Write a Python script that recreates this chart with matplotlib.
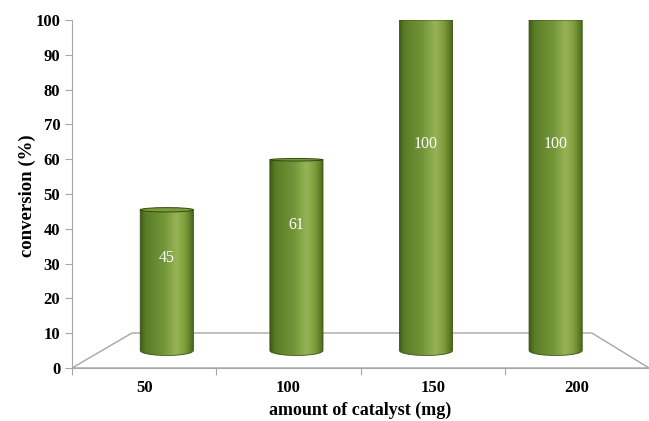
import numpy as np
import matplotlib
matplotlib.use("Agg")
import matplotlib.pyplot as plt
from matplotlib.path import Path
from matplotlib.patches import PathPatch, Ellipse, Polygon
from matplotlib.colors import LinearSegmentedColormap

# catalyst loading vs conversion
catalyst = ["50", "100", "150", "200"]
conversion = [45, 61, 100, 100]

plt.rcParams['font.family'] = ['Liberation Serif', 'DejaVu Serif']

# 3D look: the floor recedes, back plane is shrunk and shifted
back_scale = 0.797
back_shift = (0.416, 10.06)
depth = 0.5          # cylinders stand in the middle of the floor
bar_w = 0.41
ymax = 100

k = 1 - depth * (1 - back_scale)
sx, sy = depth * back_shift[0], depth * back_shift[1]

fig = plt.figure(figsize=(6.49, 4.21), dpi=100)
ax = fig.add_axes([72/649, 53/421, 577/649, 348/421])
ax.set_xlim(0, 4)
ax.set_ylim(0, ymax)

grey = "#a6a6a6"

# floor
n = len(catalyst)
floor = Polygon([(0, 0), (back_shift[0], back_shift[1]),
                 (back_shift[0] + back_scale * n, back_shift[1]), (n, 0)],
                closed=True, facecolor="white", edgecolor=grey, lw=1.0, zorder=1)
ax.add_patch(floor)

cmap = LinearSegmentedColormap.from_list("cyl", [
    (0.0, "#3f5a16"), (0.1, "#5a7c25"), (0.45, "#74963a"),
    (0.68, "#96b455"), (0.85, "#7a9a38"), (1.0, "#47641a")])
grad = np.linspace(0, 1, 256).reshape(1, -1)

px_per_unit = 348 / ymax
r_bottom = 5 / px_per_unit

for i, v in enumerate(conversion):
    cx = sx + k * (i + 0.5)
    w = bar_w * k
    x0, x1 = cx - w / 2, cx + w / 2
    yb = sy
    yt = sy + k * v
    # bars at the axis maximum run up to the top of the plot
    if v >= ymax:
        yt = ymax
    r_top = max(0.0, r_bottom * (1 - yt / 80))

    t = np.linspace(np.pi, 2 * np.pi, 60)
    arc = np.column_stack([cx + w / 2 * np.cos(t), yb + r_bottom * np.sin(t)])
    verts = np.vstack([[x0, yt], [x0, yb], arc, [x1, yb], [x1, yt], [x0, yt]])
    codes = [Path.MOVETO] + [Path.LINETO] * (len(verts) - 2) + [Path.CLOSEPOLY]
    body = PathPatch(Path(verts, codes), facecolor="none", edgecolor="#3a5012",
                     lw=0.6, zorder=3)
    ax.add_patch(body)
    im = ax.imshow(grad, cmap=cmap, extent=[x0, x1, yb - r_bottom, yt],
                   aspect="auto", zorder=2, interpolation="bicubic")
    im.set_clip_path(body)

    if v < ymax:
        top = Ellipse((cx, yt), w, 2 * r_top, facecolor="#7c9b3a",
                      edgecolor="#34490f", lw=0.7, zorder=4)
        ax.add_patch(top)

    ax.text(cx, sy + k * v * 0.66, str(v), color="white", fontsize=11.5,
            ha="center", va="center", zorder=5)

ax.set_xlim(0, 4)
ax.set_ylim(0, ymax)

# axes styling
for s in ["top", "right"]:
    ax.spines[s].set_visible(False)
ax.spines["left"].set_color(grey)
ax.spines["bottom"].set_color(grey)
ax.spines["bottom"].set_zorder(1.5)

ax.set_yticks(range(0, 101, 10))
ax.tick_params(axis="y", colors=grey, length=5, labelcolor="black", labelsize=12)
for lab in ax.get_yticklabels():
    lab.set_fontweight("bold")

ax.set_xticks(range(0, 4))
ax.set_xticklabels([])
ax.set_xticks(np.arange(n) + 0.5, minor=True)
ax.set_xticklabels(catalyst, minor=True, fontsize=12, fontweight="bold")
ax.tick_params(axis="x", which="major", colors=grey, length=5)
ax.tick_params(axis="x", which="minor", length=0, pad=9)

ax.set_xlabel("amount of catalyst (mg)", fontsize=13, fontweight="bold", va="center")
ax.xaxis.set_label_coords(0.5, -0.122)
ax.set_ylabel("conversion (%)", fontsize=13.5, fontweight="bold", va="center")
ax.yaxis.set_label_coords(-0.078, 0.494)

fig.savefig("out.png", dpi=100)
